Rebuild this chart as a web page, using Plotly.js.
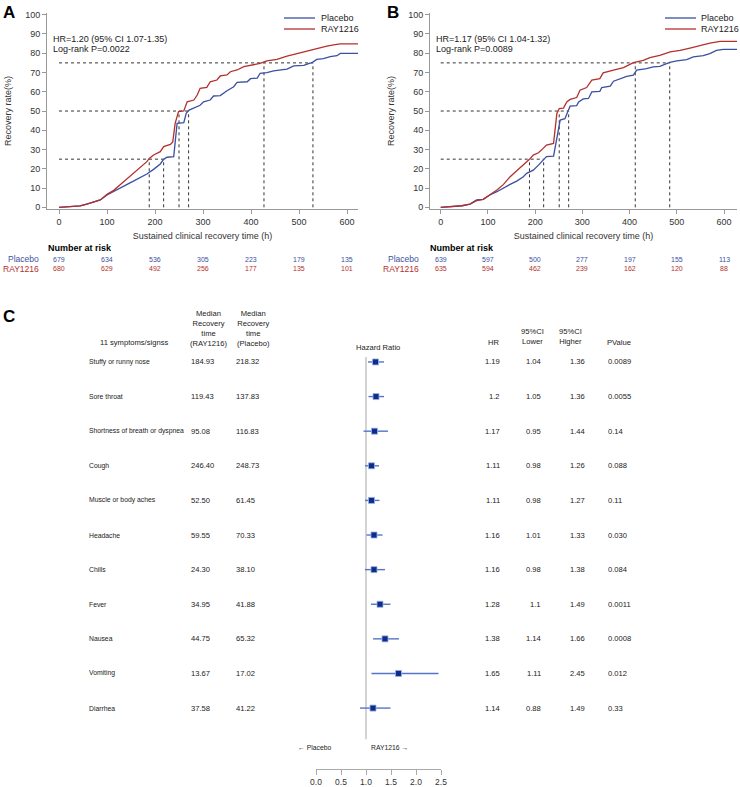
<!DOCTYPE html>
<html><head><meta charset="utf-8">
<script src="https://cdn.plot.ly/plotly-3.0.1.min.js"></script>
<style>html,body{margin:0;padding:0;background:#fff}#chart{width:740px;height:787px}</style>
</head><body><div id="chart"></div>
<script>
// ---------- Panel A: cumulative recovery curves ----------
const A_placebo_t = [0,17,44,58,72,86,100,114,128,142,156,169,183,197,211,218,225,239,242,246,260,265,271,285,294,301,315,322,336,350,364,371,392,399,413,419,433,447,475,489,510,517,528,537,551,565,579,586,625];
const A_placebo_y = [0,0.3,0.7,1.7,2.9,3.8,6.4,8.1,10.2,11.9,13.7,15.4,17.3,19.7,22.5,24.9,26.0,26.3,35,43.6,44,48.8,50.5,52,53,54.8,55.7,57.8,58,60.5,62.6,64.9,65.2,66.8,67.1,69.6,69.9,70.8,71.8,73.4,73.7,74.4,75.3,76.8,77.2,78.2,78.7,79.9,79.9];
const A_ray_t = [0,17,44,58,72,86,100,114,128,142,156,169,183,188,197,211,218,232,237,242,249,260,267,281,288,294,308,315,329,336,350,357,371,385,406,419,433,454,475,496,517,537,558,572,586,625];
const A_ray_y = [0,0.3,0.7,1.7,2.9,3.8,6.7,8.8,11.9,15,18,21.1,23.7,25.4,27.2,28.9,31.5,32.7,34,43.6,49.7,50,54.8,55.7,58.3,61.8,62.3,65.2,66.1,68.2,68.7,70.4,71.3,73,73.9,74.7,76,76.8,78.5,79.9,81.1,82.5,83.7,84.3,84.9,84.9];
const A_levels = [25, 50, 75];
const A_ray_quartile_t = [188, 250, 427];
const A_placebo_quartile_t = [218, 270, 529];
const A_hr_text = "HR=1.20 (95% CI 1.07-1.35)";
const A_p_text = "Log-rank P=0.0022";
const risk_times = [0,100,200,300,400,500,600];
const A_risk_placebo = [679,634,536,305,223,179,135];
const A_risk_ray = [680,629,492,256,177,135,101];

// ---------- Panel B ----------
const B_placebo_t = [0,20,45,62,76,90,104,119,133,147,161,175,182,196,207,218,224,239,245,249,253,263,270,274,288,292,302,313,320,337,341,359,366,380,394,408,415,436,450,464,485,500,521,535,556,570,584,599,630];
const B_placebo_y = [0,0.3,0.8,1.7,3.8,4.1,6.4,8.1,10.2,11.9,13.6,15.9,17.6,19.3,21.9,24.9,26.3,26.6,35,40.9,45.3,46,50.4,52.5,52.8,54.7,56.3,56.5,59.9,60.2,62.2,62.9,65.5,66.8,68,68.6,71.2,72,72.9,73.2,75.3,76,76.7,78.1,78.8,79.8,81.5,82,82];
const B_ray_t = [0,20,45,62,76,90,104,119,133,147,161,175,188,196,207,217,224,239,246,251,260,267,274,288,295,309,320,337,344,366,387,408,429,443,464,486,507,528,549,570,592,630];
const B_ray_y = [0,0.3,0.8,1.7,3.5,4.1,6.4,9,11.9,15.9,19,21.9,24.9,27.1,28.3,30.6,32.3,33.2,48.7,51.3,51.5,54.7,56,57,60.8,62.2,66,66.8,69.8,71.2,72.5,75.1,76.3,77.7,78.9,80.7,81.5,82.7,84.1,85.3,86.2,86.2];
const B_levels = [25, 50, 75];
const B_ray_quartile_t = [188, 251, 412];
const B_placebo_quartile_t = [218, 271, 485];
const B_hr_text = "HR=1.17 (95% CI 1.04-1.32)";
const B_p_text = "Log-rank P=0.0089";
const B_risk_placebo = [639,597,500,277,197,155,113];
const B_risk_ray = [635,594,462,239,162,120,88];

// ---------- Panel C: forest plot ----------
const symptoms = ["Stuffy or runny nose","Sore throat","Shortness of breath or dyspnea","Cough","Muscle or body aches","Headache","Chills","Fever","Nausea","Vomiting","Diarrhea"];
const median_ray = ["184.93","119.43","95.08","246.40","52.50","59.55","24.30","34.95","44.75","13.67","37.58"];
const median_placebo = ["218.32","137.83","116.83","248.73","61.45","70.33","38.10","41.88","65.32","17.02","41.22"];
const hr = [1.19,1.2,1.17,1.11,1.11,1.16,1.16,1.28,1.38,1.65,1.14];
const ci_lower = [1.04,1.05,0.95,0.98,0.98,1.01,0.98,1.1,1.14,1.11,0.88];
const ci_upper = [1.36,1.36,1.44,1.26,1.27,1.33,1.38,1.49,1.66,2.45,1.49];
const hr_text = ["1.19","1.2","1.17","1.11","1.11","1.16","1.16","1.28","1.38","1.65","1.14"];
const lower_text = ["1.04","1.05","0.95","0.98","0.98","1.01","0.98","1.1","1.14","1.11","0.88"];
const upper_text = ["1.36","1.36","1.44","1.26","1.27","1.33","1.38","1.49","1.66","2.45","1.49"];
const pvalue_text = ["0.0089","0.0055","0.14","0.088","0.11","0.030","0.084","0.0011","0.0008","0.012","0.33"];
const forest_ticks = [0, 0.5, 1, 1.5, 2, 2.5];
const hr_null = 1;

// ---------- styling ----------
const W = 740, H = 787;
const px = x => x / W;
const py = y => 1 - y / H;
const BLUE = '#3c4fa0', RED = '#b3302d';
const FONT = 'Arial, "Liberation Sans", sans-serif';
const TXT = '#222';

function refLines(levels, tr, tp) {
  const x = [], y = [];
  levels.forEach((lv, i) => {
    x.push(0, Math.max(tr[i], tp[i]), null); y.push(lv, lv, null);
    x.push(tr[i], tr[i], null); y.push(0, lv, null);
    x.push(tp[i], tp[i], null); y.push(0, lv, null);
  });
  return {x, y};
}
const refA = refLines(A_levels, A_ray_quartile_t, A_placebo_quartile_t);
const refB = refLines(B_levels, B_ray_quartile_t, B_placebo_quartile_t);
const rows = symptoms.map((_, i) => i);

const traces = [
  {x: refA.x, y: refA.y, xaxis:'x', yaxis:'y', mode:'lines', line:{color:'#333', width:1, dash:'dot'}, showlegend:false, hoverinfo:'skip'},
  {x: refB.x, y: refB.y, xaxis:'x2', yaxis:'y2', mode:'lines', line:{color:'#333', width:1, dash:'dot'}, showlegend:false, hoverinfo:'skip'},
  {x: A_placebo_t, y: A_placebo_y, xaxis:'x', yaxis:'y', mode:'lines', line:{color:BLUE, width:1.3}, name:'Placebo', showlegend:false},
  {x: A_ray_t, y: A_ray_y, xaxis:'x', yaxis:'y', mode:'lines', line:{color:RED, width:1.3}, name:'RAY1216', showlegend:false},
  {x: B_placebo_t, y: B_placebo_y, xaxis:'x2', yaxis:'y2', mode:'lines', line:{color:BLUE, width:1.3}, name:'Placebo', showlegend:false},
  {x: B_ray_t, y: B_ray_y, xaxis:'x2', yaxis:'y2', mode:'lines', line:{color:RED, width:1.3}, name:'RAY1216', showlegend:false},
  {x: [hr_null, hr_null], y: [-0.14, 10.9], xaxis:'x3', yaxis:'y3', mode:'lines', line:{color:'#c4c4c4', width:1.5}, showlegend:false, hoverinfo:'skip'},
  {x: hr, y: rows, xaxis:'x3', yaxis:'y3', mode:'markers', type:'scatter',
   marker:{symbol:'square', size:6, color:'#0b2d8c', line:{color:'#9fb0e0', width:0.8}},
   error_x:{type:'data', symmetric:false, array: ci_upper.map((u,i)=>u-hr[i]), arrayminus: hr.map((h,i)=>h-ci_lower[i]), color:'#5575cc', thickness:1.4, width:0},
   showlegend:false}
];

const axisBase = {showline:true, linecolor:'#999', linewidth:1, ticks:'outside', ticklen:4, tickcolor:'#999',
  showgrid:false, zeroline:false, tickfont:{family:FONT, size:9, color:'#333'}};

const ann = [];
function A(o) { ann.push(Object.assign({showarrow:false, font:{family:FONT, size:9, color:TXT}}, o)); }

// Panel letters
A({text:'<b>A</b>', xref:'paper', yref:'paper', x:px(9), y:py(12), xanchor:'center', yanchor:'middle', font:{family:FONT, size:17, color:'#000'}});
A({text:'<b>B</b>', xref:'paper', yref:'paper', x:px(393), y:py(12), xanchor:'center', yanchor:'middle', font:{family:FONT, size:17, color:'#000'}});
A({text:'<b>C</b>', xref:'paper', yref:'paper', x:px(9), y:py(316), xanchor:'center', yanchor:'middle', font:{family:FONT, size:17, color:'#000'}});

// HR / log-rank texts
A({text:A_hr_text, xref:'paper', yref:'paper', x:px(51), y:py(39), xanchor:'left', yanchor:'middle'});
A({text:A_p_text, xref:'paper', yref:'paper', x:px(51), y:py(49), xanchor:'left', yanchor:'middle'});
A({text:B_hr_text, xref:'paper', yref:'paper', x:px(434), y:py(39), xanchor:'left', yanchor:'middle'});
A({text:B_p_text, xref:'paper', yref:'paper', x:px(434), y:py(49), xanchor:'left', yanchor:'middle'});

// Manual legends
const shapes = [];
[[284, 319], [665, 699]].forEach(([lx, tx]) => {
  shapes.push({type:'line', xref:'paper', yref:'paper', x0:px(lx), x1:px(lx+31), y0:py(18), y1:py(18), line:{color:BLUE, width:1.3}});
  shapes.push({type:'line', xref:'paper', yref:'paper', x0:px(lx), x1:px(lx+31), y0:py(29), y1:py(29), line:{color:RED, width:1.3}});
  A({text:'Placebo', xref:'paper', yref:'paper', x:px(tx), y:py(18), xanchor:'left', yanchor:'middle'});
  A({text:'RAY1216', xref:'paper', yref:'paper', x:px(tx), y:py(29), xanchor:'left', yanchor:'middle'});
});

// Number at risk
[['x', 80, 41, A_risk_placebo, A_risk_ray], ['x2', 462, 421, B_risk_placebo, B_risk_ray]].forEach(([xr, nx, lx, rp, rr]) => {
  A({text:'<b>Number at risk</b>', xref:'paper', yref:'paper', x:px(nx), y:py(248), xanchor:'center', yanchor:'middle', font:{family:FONT, size:9, color:'#000'}});
  A({text:'Placebo', xref:'paper', yref:'paper', x:px(lx), y:py(259), xanchor:'right', yanchor:'middle', font:{family:FONT, size:8.5, color:BLUE}});
  A({text:'RAY1216', xref:'paper', yref:'paper', x:px(lx), y:py(269), xanchor:'right', yanchor:'middle', font:{family:FONT, size:8.5, color:RED}});
  risk_times.forEach((t, i) => {
    A({text:String(rp[i]), xref:xr, yref:'paper', x:t, y:py(259), xanchor:'center', yanchor:'middle', font:{family:FONT, size:7, color:BLUE}});
    A({text:String(rr[i]), xref:xr, yref:'paper', x:t, y:py(269), xanchor:'center', yanchor:'middle', font:{family:FONT, size:7, color:RED}});
  });
});

// Forest table headers
const FS = 7.6;
A({text:'11 symptoms/signss', xref:'paper', yref:'paper', x:px(134), y:py(343), xanchor:'center', yanchor:'middle', font:{family:FONT, size:FS, color:TXT}});
A({text:'Median<br>Recovery<br>time<br>(RAY1216)', xref:'paper', yref:'paper', x:px(208), y:py(328), xanchor:'center', yanchor:'middle', font:{family:FONT, size:FS, color:TXT}});
A({text:'Median<br>Recovery<br>time<br>(Placebo)', xref:'paper', yref:'paper', x:px(253), y:py(328), xanchor:'center', yanchor:'middle', font:{family:FONT, size:FS, color:TXT}});
A({text:'Hazard Ratio', xref:'paper', yref:'paper', x:px(378), y:py(347), xanchor:'center', yanchor:'middle', font:{family:FONT, size:FS, color:TXT}});
A({text:'HR', xref:'paper', yref:'paper', x:px(494), y:py(342), xanchor:'center', yanchor:'middle', font:{family:FONT, size:FS, color:TXT}});
A({text:'95%CI<br>Lower', xref:'paper', yref:'paper', x:px(532), y:py(337), xanchor:'center', yanchor:'middle', font:{family:FONT, size:FS, color:TXT}});
A({text:'95%CI<br>Higher', xref:'paper', yref:'paper', x:px(570), y:py(337), xanchor:'center', yanchor:'middle', font:{family:FONT, size:FS, color:TXT}});
A({text:'PValue', xref:'paper', yref:'paper', x:px(605), y:py(342), xanchor:'left', yanchor:'middle', font:{family:FONT, size:FS, color:TXT}});

// Forest table rows
symptoms.forEach((s, i) => {
  A({text:s, xref:'paper', yref:'y3', x:px(87), y:i, xanchor:'left', yanchor:'middle', font:{family:FONT, size:6.8, color:TXT}});
  A({text:median_ray[i], xref:'paper', yref:'y3', x:px(189), y:i, xanchor:'left', yanchor:'middle', font:{family:FONT, size:FS, color:TXT}});
  A({text:median_placebo[i], xref:'paper', yref:'y3', x:px(234), y:i, xanchor:'left', yanchor:'middle', font:{family:FONT, size:FS, color:TXT}});
  A({text:hr_text[i], xref:'paper', yref:'y3', x:px(502), y:i, xanchor:'right', yanchor:'middle', font:{family:FONT, size:FS, color:TXT}});
  A({text:lower_text[i], xref:'paper', yref:'y3', x:px(543), y:i, xanchor:'right', yanchor:'middle', font:{family:FONT, size:FS, color:TXT}});
  A({text:upper_text[i], xref:'paper', yref:'y3', x:px(587), y:i, xanchor:'right', yanchor:'middle', font:{family:FONT, size:FS, color:TXT}});
  A({text:pvalue_text[i], xref:'paper', yref:'y3', x:px(606), y:i, xanchor:'left', yanchor:'middle', font:{family:FONT, size:FS, color:TXT}});
});
A({text:'\u2190 Placebo', xref:'paper', yref:'paper', x:px(314), y:py(747), xanchor:'center', yanchor:'middle', font:{family:FONT, size:6.8, color:TXT}});
A({text:'RAY1216 \u2192', xref:'paper', yref:'paper', x:px(390), y:py(747), xanchor:'center', yanchor:'middle', font:{family:FONT, size:6.8, color:TXT}});

const layout = {
  width: W, height: H, margin:{l:0, r:0, t:0, b:0}, paper_bgcolor:'#fff', plot_bgcolor:'rgba(0,0,0,0)',
  showlegend:false, font:{family:FONT, color:TXT},
  xaxis: Object.assign({}, axisBase, {domain:[px(47), px(358)], range:[-25, 622.9], anchor:'y', tick0:0, dtick:100,
    title:{text:'Sustained clinical recovery time (h)', font:{family:FONT, size:9, color:'#333'}, standoff:6}}),
  yaxis: Object.assign({}, axisBase, {domain:[py(209), py(13)], range:[-0.88, 100.9], anchor:'x', tick0:0, dtick:10,
    title:{text:'Recovery rate(%)', font:{family:FONT, size:9, color:'#333'}, standoff:12}}),
  xaxis2: Object.assign({}, axisBase, {domain:[px(430), px(737)], range:[-22.7, 627.5], anchor:'y2', tick0:0, dtick:100,
    title:{text:'Sustained clinical recovery time (h)', font:{family:FONT, size:9, color:'#333'}, standoff:6}}),
  yaxis2: Object.assign({}, axisBase, {domain:[py(209), py(13)], range:[-0.88, 100.9], anchor:'x2', tick0:0, dtick:10,
    title:{text:'Recovery rate(%)', font:{family:FONT, size:9, color:'#333'}, standoff:12}}),
  xaxis3: Object.assign({}, axisBase, {domain:[px(316), px(441)], range:[0, 2.5], anchor:'y3', tickvals:forest_ticks, tickformat:'.1f',
    ticklen:5, linecolor:'#aaa', tickcolor:'#aaa', tickfont:{family:FONT, size:8.5, color:'#333'}}),
  yaxis3: {domain:[py(769), py(345)], range:[11.76, -0.49], anchor:'x3', visible:false, showgrid:false, zeroline:false},
  annotations: ann,
  shapes: shapes
};

Plotly.newPlot('chart', traces, layout, {displayModeBar:false, staticPlot:true});
</script>
</body></html>
